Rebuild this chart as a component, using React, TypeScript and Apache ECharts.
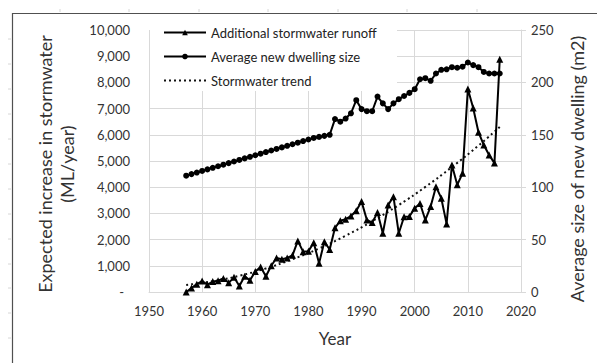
import React, { useEffect, useRef } from "react";
import * as echarts from "echarts";

// Years covered by both series
const years: number[] = [
  1957, 1958, 1959, 1960, 1961, 1962, 1963, 1964, 1965, 1966,
  1967, 1968, 1969, 1970, 1971, 1972, 1973, 1974, 1975, 1976,
  1977, 1978, 1979, 1980, 1981, 1982, 1983, 1984, 1985, 1986,
  1987, 1988, 1989, 1990, 1991, 1992, 1993, 1994, 1995, 1996,
  1997, 1998, 1999, 2000, 2001, 2002, 2003, 2004, 2005, 2006,
  2007, 2008, 2009, 2010, 2011, 2012, 2013, 2014, 2015, 2016,
];

// Additional stormwater runoff (ML/year)
const runoff: number[] = [
  0, 150, 300, 420, 280, 400, 430, 520, 350, 560,
  230, 600, 450, 780, 950, 600, 1000, 1300, 1250, 1300,
  1400, 1950, 1540, 1560, 1880, 1100, 1920, 1620, 2450, 2720,
  2780, 2900, 3100, 3450, 2750, 2650, 3030, 2240, 3320, 3640,
  2240, 2870, 2880, 3200, 3380, 2750, 3260, 4020, 3580, 2600,
  4850, 4090, 4530, 7750, 7020, 6100, 5610, 5230, 4920, 8880,
];

// Average new dwelling size (m2)
const dwelling: number[] = [
  111, 112.5, 114, 115.5, 117, 118.5, 120, 121.5, 123, 124.5,
  126, 127.5, 129, 130.5, 132, 133.5, 135, 136.5, 138, 139.5,
  141, 142.5, 144, 145.5, 147, 148, 149, 150, 165, 162.5,
  165.5, 170.5, 183, 174.5, 172.5, 172.5, 186.5, 180, 174.5, 180,
  184, 187, 190, 193.5, 203, 204, 201.5, 208.5, 212, 212.5,
  214.5, 214, 215, 219, 216.5, 214.5, 210, 208.5, 208.5, 208.5,
];

// Stormwater trend (ML/year)
const trendYears: number[] = [1957, 1962, 1967, 1972, 1977, 1982, 1987, 1992, 1997, 2002, 2007, 2012, 2016];
const trendValues: number[] = [270, 410, 620, 900, 1250, 1660, 2150, 2700, 3320, 4010, 4770, 5590, 6300];

const FONT = "Lato, 'Noto Sans', sans-serif";
const GRID = "#d9d9d9";
const TEXT = "#333333";

export default function App() {
  const ref = useRef<HTMLDivElement>(null);

  useEffect(() => {
    if (!ref.current) return;
    const chart = echarts.init(ref.current, undefined, { renderer: "svg" });

    const rulerTop = [60, 129, 199, 268, 338, 407, 477].map((x) => ({
      type: "line",
      shape: { x1: x, y1: 9, x2: x, y2: 12 },
      style: { stroke: "#d6d6d6", lineWidth: 1 },
      silent: true,
    }));
    const rulerLeft = [39, 64, 89, 114, 139, 164, 189, 214, 239, 264, 288, 313, 338].map((y) => ({
      type: "line",
      shape: { x1: 8, y1: y, x2: 11, y2: y },
      style: { stroke: "#d6d6d6", lineWidth: 1 },
      silent: true,
    }));

    chart.setOption({
      animation: false,
      backgroundColor: "#ffffff",
      textStyle: { fontFamily: FONT },
      grid: { left: 149, right: 76, top: 30, bottom: 71, containLabel: false },
      legend: {
        orient: "vertical",
        left: 158,
        top: 20,
        itemWidth: 42,
        itemHeight: 7,
        itemGap: 9,
        textStyle: { fontFamily: FONT, fontSize: 13, color: "#222222", lineHeight: 15 },
        data: [
          { name: "Additional stormwater runoff" },
          { name: "Average new dwelling size" },
          { name: "Stormwater trend", itemStyle: { opacity: 0 } },
        ],
      },
      graphic: [
        // chart frame
        {
          type: "rect",
          shape: { x: 12.5, y: 13.5, width: 620, height: 400 },
          style: { fill: "none", stroke: "#505050", lineWidth: 1.2 },
          silent: true,
          z: 0,
        },
        ...rulerTop,
        ...rulerLeft,
        // white panel behind the legend
        {
          type: "rect",
          shape: { x: 150, y: 28, width: 247, height: 63 },
          style: { fill: "#ffffff" },
          silent: true,
          z: 1,
        },
        {
          type: "text",
          x: 56,
          y: 164,
          rotation: Math.PI / 2,
          style: {
            text: "Expected increase in stormwater\n(ML/year)",
            fontFamily: FONT,
            fontSize: 18,
            lineHeight: 22,
            fill: TEXT,
            align: "center",
            verticalAlign: "middle",
          },
          z: 5,
        },
        {
          type: "text",
          x: 577,
          y: 169,
          rotation: Math.PI / 2,
          style: {
            text: "Average size of new dwelling (m2)",
            fontFamily: FONT,
            fontSize: 18,
            fill: TEXT,
            align: "center",
            verticalAlign: "middle",
          },
          z: 5,
        },
      ],
      xAxis: {
        type: "value",
        min: 1950,
        max: 2020,
        interval: 10,
        name: "Year",
        nameLocation: "middle",
        nameGap: 38,
        nameTextStyle: { fontFamily: FONT, fontSize: 17, color: TEXT },
        axisLine: { show: true, lineStyle: { color: GRID, width: 1 } },
        axisTick: { show: false },
        axisLabel: {
          margin: 12,
          fontFamily: FONT,
          fontSize: 13,
          color: TEXT,
          formatter: (v: number) => String(v),
        },
        splitLine: { show: true, lineStyle: { color: GRID, width: 1 } },
      },
      yAxis: [
        {
          type: "value",
          min: 0,
          max: 10000,
          interval: 1000,
          position: "left",
          axisLine: { show: false },
          axisTick: { show: false },
          axisLabel: {
            margin: 19,
            fontFamily: FONT,
            fontSize: 13,
            color: TEXT,
            formatter: (v: number) => (v === 0 ? "{d|-}" : v.toLocaleString("en-US")),
            rich: { d: { padding: [0, 6, 0, 0], fontFamily: FONT, fontSize: 13, color: TEXT } },
          },
          splitLine: { show: true, lineStyle: { color: GRID, width: 1 } },
        },
        {
          type: "value",
          min: 0,
          max: 250,
          interval: 50,
          position: "right",
          axisLine: { show: true, lineStyle: { color: GRID, width: 1 } },
          axisTick: { show: true, length: 5, lineStyle: { color: GRID } },
          axisLabel: { margin: 10, fontFamily: FONT, fontSize: 13, color: TEXT },
          splitLine: { show: false },
        },
      ],
      series: [
        {
          name: "Additional stormwater runoff",
          type: "line",
          yAxisIndex: 0,
          data: years.map((y, i) => [y, runoff[i]]),
          symbol: "triangle",
          symbolSize: 7,
          color: "#000000",
          itemStyle: { color: "#000000" },
          lineStyle: { color: "#000000", width: 2 },
          z: 3,
        },
        {
          name: "Average new dwelling size",
          type: "line",
          yAxisIndex: 1,
          data: years.map((y, i) => [y, dwelling[i]]),
          symbol: "circle",
          symbolSize: 6,
          color: "#000000",
          itemStyle: { color: "#000000" },
          lineStyle: { color: "#000000", width: 2 },
          z: 3,
        },
        {
          name: "Stormwater trend",
          type: "line",
          yAxisIndex: 0,
          data: trendYears.map((y, i) => [y, trendValues[i]]),
          smooth: true,
          symbol: "none",
          color: "#000000",
          lineStyle: { color: "#111111", width: 2, type: [2, 3] },
          z: 2,
        },
      ],
    });

    return () => chart.dispose();
  }, []);

  return (
    <div
      ref={ref}
      style={{ position: "absolute", left: 0, top: 0, width: 597, height: 363 }}
    />
  );
}
